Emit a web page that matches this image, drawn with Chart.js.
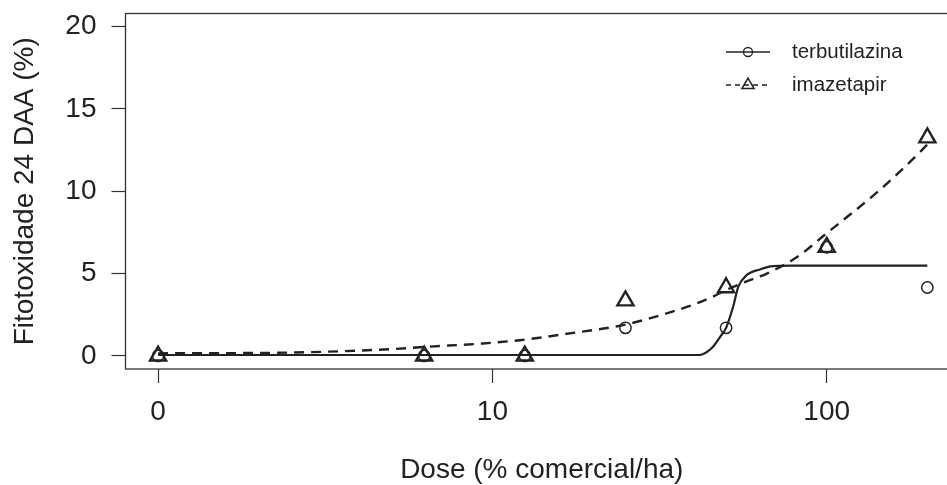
<!DOCTYPE html>
<html>
<head>
<meta charset="utf-8">
<script src="https://cdn.jsdelivr.net/npm/chart.js@4.4.1/dist/chart.umd.min.js"></script>
<style>
  html, body { margin: 0; padding: 0; background: #fff; overflow: hidden; }
  #wrap { position: relative; width: 975px; height: 487px; }
</style>
</head>
<body>
<div id="wrap"><canvas id="dose"></canvas></div>
<script>
// ── Data ──────────────────────────────────────────────────

const doses         = [0, 6.25, 12.5, 25, 50, 100, 200];
const terbutilazina = [0, 0, 0, 1.7, 1.7, 6.6, 4.15];
const imazetapir    = [0, 0, 0, 3.35, 4.15, 6.6, 13.25];

// fitted dose-response curves
const terbFitDose  = [0, 10, 30, 41.8, 43.7, 45.7, 48, 50, 52.5, 54.4, 57.6, 63.1, 69.1, 77.6, 100, 200];
const terbFitValue = [0.05, 0.05, 0.05, 0.05, 0.22, 0.55, 1.15, 1.7, 3.0, 4.2, 4.9, 5.25, 5.45, 5.48, 5.48, 5.48];
const imazFitDose  = [0, 2.47, 4.93, 6.36, 9.35, 12.07, 16.2, 25, 31, 39.8, 45.7, 50, 58.9, 66.2, 81.5, 100, 144.5, 190.5, 200];
const imazFitValue = [0.15, 0.2, 0.4, 0.55, 0.75, 0.95, 1.3, 1.9, 2.4, 3.1, 3.6, 4.0, 4.6, 5.0, 6.0, 7.45, 10.1, 12.4, 12.85];

const xTicks = [0, 10, 100];
const yTicks = [0, 5, 10, 15, 20];

// the log axis has no zero, so dose 0 sits one decade below 10
const ZERO_DOSE_AT = 1;

// ── Style ─────────────────────────────────────────────────

const INK  = '#222';
const FONT = "'Liberation Sans', Arial, sans-serif";

function toPoints(xs, ys) {
    return xs.map((d, i) => ({ x: d === 0 ? ZERO_DOSE_AT : d, y: ys[i] }));
}

// keep the plot box where it is, whatever size the edge labels have
function fixBox(size) {
    return s => {
        if (s.isHorizontal()) s.height = size; else s.width = size;
        s.paddingTop = 0;
        s.paddingBottom = 0;
        s.paddingLeft = 0;
        s.paddingRight = 0;
    };
}

// ── Plugins ───────────────────────────────────────────────

const framePlugin = {
    id: 'frame',
    afterDatasetsDraw(chart) {
        const { ctx, chartArea: a } = chart;
        ctx.save();
        ctx.strokeStyle = '#333';
        ctx.lineWidth = 1.3;
        ctx.strokeRect(a.left, a.top, a.right - a.left, a.bottom - a.top);
        ctx.restore();
    }
};

const keyPlugin = {
    id: 'seriesKey',
    afterDraw(chart) {
        const ctx  = chart.ctx;
        const rows = [
            { label: 'terbutilazina', dash: [],     style: 'circle',   r: 4.5, bw: 1.3, y: 52 },
            { label: 'imazetapir',    dash: [5, 4], style: 'triangle', r: 7,   bw: 1.5, y: 85 }
        ];
        ctx.save();
        rows.forEach(row => {
            ctx.strokeStyle = INK;
            ctx.lineWidth = 1.4;
            ctx.setLineDash(row.dash);
            ctx.beginPath();
            ctx.moveTo(726, row.y);
            ctx.lineTo(770, row.y);
            ctx.stroke();
            ctx.setLineDash([]);
            ctx.fillStyle = 'rgba(0,0,0,0)';
            ctx.lineWidth = row.bw;
            Chart.helpers.drawPoint(ctx, { pointStyle: row.style, radius: row.r, rotation: 0, borderWidth: row.bw }, 748, row.y);
            ctx.fillStyle = INK;
            ctx.font = `20.5px ${FONT}`;
            ctx.textAlign = 'left';
            ctx.textBaseline = 'middle';
            ctx.fillText(row.label, 792, row.y);
        });
        ctx.restore();
    }
};

// ── Chart ─────────────────────────────────────────────────

new Chart(document.getElementById('dose').getContext('2d'), {
    type: 'scatter',
    plugins: [framePlugin, keyPlugin],
    data: {
        datasets: [
            {
                label: 'terbutilazina',
                data: toPoints(doses, terbutilazina),
                pointStyle: 'circle',
                pointRadius: 5.7,
                borderWidth: 1.5,
                borderColor: INK,
                backgroundColor: 'rgba(0,0,0,0)',
                order: 1
            },
            {
                label: 'imazetapir',
                data: toPoints(doses, imazetapir),
                pointStyle: 'triangle',
                pointRadius: 9.3,
                borderWidth: 2.4,
                borderColor: INK,
                backgroundColor: 'rgba(0,0,0,0)',
                order: 0
            },
            {
                label: 'terbutilazina (ajuste)',
                data: toPoints(terbFitDose, terbFitValue),
                showLine: true,
                pointRadius: 0,
                borderWidth: 2.2,
                borderColor: INK,
                cubicInterpolationMode: 'monotone',
                order: 3
            },
            {
                label: 'imazetapir (ajuste)',
                data: toPoints(imazFitDose, imazFitValue),
                showLine: true,
                pointRadius: 0,
                borderWidth: 2.4,
                borderDash: [10, 7],
                borderColor: INK,
                cubicInterpolationMode: 'monotone',
                order: 2
            }
        ]
    },
    options: {
        responsive: true,
        maintainAspectRatio: false,
        animation: false,
        layout: { padding: { top: 13.5, right: 17, bottom: 0, left: 0 } },
        plugins: {
            legend:  { display: false },
            tooltip: { enabled: false }
        },
        scales: {
            x: {
                type: 'logarithmic',
                min: 0.799,
                max: 247,
                border: { display: false },
                grid: { drawOnChartArea: false, drawTicks: true, tickLength: 14, tickColor: '#333', tickWidth: 1.2 },
                ticks: {
                    color: INK,
                    font: { family: FONT, size: 28 },
                    padding: 12,
                    maxRotation: 0,
                    autoSkip: false,
                    callback: v => (v === ZERO_DOSE_AT ? '0' : String(v))
                },
                title: {
                    display: true,
                    text: 'Dose (% comercial/ha)',
                    color: INK,
                    font: { family: FONT, size: 28 },
                    padding: { top: 0, bottom: 0 }
                },
                afterBuildTicks: s => { s.ticks = xTicks.map(d => ({ value: d === 0 ? ZERO_DOSE_AT : d })); },
                afterFit: fixBox(118)
            },
            y: {
                min: -0.8,
                max: 20.8,
                border: { display: false },
                grid: { drawOnChartArea: false, drawTicks: true, tickLength: 14, tickColor: '#333', tickWidth: 1.2 },
                ticks: {
                    color: INK,
                    font: { family: FONT, size: 28 },
                    padding: 15
                },
                title: {
                    display: true,
                    text: 'Fitotoxidade 24 DAA (%)',
                    color: INK,
                    font: { family: FONT, size: 28 },
                    padding: { top: 8.5, bottom: 0 }
                },
                afterBuildTicks: s => { s.ticks = yTicks.map(v => ({ value: v })); },
                afterFit: fixBox(125.5)
            }
        }
    }
});
</script>
</body>
</html>
